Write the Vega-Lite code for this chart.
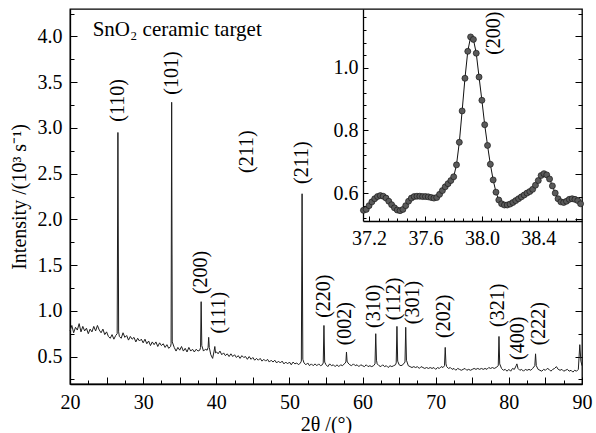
{
  "$schema": "https://vega.github.io/schema/vega-lite/v6.json",
  "width": 512,
  "height": 375,
  "autosize": {"type": "none"},
  "padding": {"left": 70, "top": 9, "right": 14, "bottom": 49},
  "background": "white",
  "config": {
    "font": "Liberation Serif",
    "view": {"stroke": "black", "strokeWidth": 1.3},
    "axis": {
      "grid": false,
      "domainColor": "black",
      "domainWidth": 1.3,
      "tickColor": "black",
      "tickWidth": 1,
      "labelFont": "Liberation Serif",
      "labelFontSize": 20,
      "labelColor": "black",
      "labelFlush": false,
      "labelOverlap": false,
      "titleFont": "Liberation Serif",
      "titleFontSize": 20,
      "titleFontWeight": "normal",
      "titleColor": "black"
    },
    "text": {"font": "Liberation Serif", "color": "black"}
  },
  "datasets": {
    "main": [
      {"t":20.00,"v":0.78},{"t":20.25,"v":0.84},{"t":20.50,"v":0.76},{"t":20.75,"v":0.82},{"t":21.00,"v":0.79},{"t":21.25,"v":0.86},{"t":21.50,"v":0.77},{"t":21.75,"v":0.83},{"t":22.00,"v":0.78},{"t":22.25,"v":0.81},{"t":22.50,"v":0.75},{"t":22.75,"v":0.80},{"t":23.00,"v":0.77},{"t":23.25,"v":0.83},{"t":23.50,"v":0.78},{"t":23.75,"v":0.84},{"t":24.00,"v":0.79},{"t":24.25,"v":0.76},{"t":24.50,"v":0.80},{"t":24.75,"v":0.74},
      {"t":25.00,"v":0.77},{"t":25.25,"v":0.72},{"t":25.50,"v":0.70},{"t":25.75,"v":0.74},{"t":26.00,"v":0.69},{"t":26.25,"v":0.73},{"t":26.45,"v":0.75},{"t":26.55,"v":2.95},{"t":26.65,"v":0.77},{"t":26.75,"v":0.72},{"t":27.00,"v":0.70},{"t":27.25,"v":0.76},{"t":27.50,"v":0.71},{"t":27.75,"v":0.73},{"t":28.00,"v":0.68},{"t":28.25,"v":0.72},{"t":28.50,"v":0.69},{"t":28.75,"v":0.71},{"t":29.00,"v":0.66},{"t":29.25,"v":0.70},{"t":29.50,"v":0.67},{"t":29.75,"v":0.69},
      {"t":30.00,"v":0.65},{"t":30.25,"v":0.69},{"t":30.50,"v":0.64},{"t":30.75,"v":0.67},{"t":31.00,"v":0.62},{"t":31.25,"v":0.66},{"t":31.50,"v":0.63},{"t":31.75,"v":0.66},{"t":32.00,"v":0.61},{"t":32.25,"v":0.65},{"t":32.50,"v":0.62},{"t":32.75,"v":0.64},{"t":33.00,"v":0.60},{"t":33.25,"v":0.63},{"t":33.50,"v":0.59},{"t":33.75,"v":0.61},{"t":33.82,"v":0.64},{"t":33.90,"v":3.28},{"t":33.98,"v":0.66},
      {"t":34.25,"v":0.60},{"t":34.50,"v":0.56},{"t":34.75,"v":0.60},{"t":35.00,"v":0.57},{"t":35.25,"v":0.61},{"t":35.50,"v":0.56},{"t":35.75,"v":0.59},{"t":36.00,"v":0.55},{"t":36.25,"v":0.60},{"t":36.50,"v":0.56},{"t":36.75,"v":0.58},{"t":37.00,"v":0.55},{"t":37.25,"v":0.58},{"t":37.50,"v":0.56},{"t":37.75,"v":0.57},{"t":37.85,"v":0.60},{"t":37.93,"v":1.10},{"t":38.02,"v":0.62},{"t":38.25,"v":0.56},{"t":38.50,"v":0.58},{"t":38.75,"v":0.57},{"t":38.88,"v":0.60},{"t":38.96,"v":0.71},{"t":39.04,"v":0.60},{"t":39.25,"v":0.52},{"t":39.50,"v":0.48},{"t":39.70,"v":0.56},{"t":39.80,"v":0.61},{"t":39.90,"v":0.54},
      {"t":40.05,"v":0.55},{"t":40.25,"v":0.53},{"t":40.50,"v":0.56},{"t":40.75,"v":0.52},{"t":41.00,"v":0.54},{"t":41.25,"v":0.51},{"t":41.50,"v":0.53},{"t":41.75,"v":0.50},{"t":42.00,"v":0.53},{"t":42.25,"v":0.50},{"t":42.50,"v":0.52},{"t":42.75,"v":0.49},{"t":43.00,"v":0.51},{"t":43.25,"v":0.48},{"t":43.50,"v":0.51},{"t":43.75,"v":0.49},{"t":44.00,"v":0.50},{"t":44.25,"v":0.47},{"t":44.50,"v":0.50},{"t":44.75,"v":0.47},
      {"t":45.00,"v":0.49},{"t":45.25,"v":0.46},{"t":45.50,"v":0.48},{"t":45.75,"v":0.46},{"t":46.00,"v":0.48},{"t":46.25,"v":0.45},{"t":46.50,"v":0.47},{"t":46.75,"v":0.45},{"t":47.00,"v":0.47},{"t":47.25,"v":0.44},{"t":47.50,"v":0.46},{"t":47.75,"v":0.44},{"t":48.00,"v":0.46},{"t":48.25,"v":0.43},{"t":48.50,"v":0.45},{"t":48.75,"v":0.43},{"t":49.00,"v":0.45},{"t":49.25,"v":0.42},{"t":49.50,"v":0.44},{"t":49.75,"v":0.42},
      {"t":50.00,"v":0.44},{"t":50.25,"v":0.41},{"t":50.50,"v":0.44},{"t":50.75,"v":0.42},{"t":51.00,"v":0.43},{"t":51.25,"v":0.41},{"t":51.50,"v":0.43},{"t":51.63,"v":0.45},{"t":51.73,"v":2.28},{"t":51.83,"v":0.47},{"t":52.00,"v":0.43},{"t":52.25,"v":0.41},{"t":52.50,"v":0.43},{"t":52.75,"v":0.40},{"t":53.00,"v":0.42},{"t":53.25,"v":0.40},{"t":53.50,"v":0.42},{"t":53.75,"v":0.40},{"t":54.00,"v":0.42},{"t":54.25,"v":0.40},{"t":54.50,"v":0.41},{"t":54.62,"v":0.43},{"t":54.72,"v":0.84},{"t":54.82,"v":0.44},
      {"t":55.00,"v":0.41},{"t":55.25,"v":0.39},{"t":55.50,"v":0.42},{"t":55.75,"v":0.40},{"t":56.00,"v":0.41},{"t":56.25,"v":0.39},{"t":56.50,"v":0.41},{"t":56.75,"v":0.39},{"t":57.00,"v":0.41},{"t":57.25,"v":0.40},{"t":57.50,"v":0.42},{"t":57.72,"v":0.44},{"t":57.80,"v":0.55},{"t":57.88,"v":0.45},{"t":58.00,"v":0.43},{"t":58.25,"v":0.41},{"t":58.50,"v":0.40},{"t":58.75,"v":0.42},{"t":59.00,"v":0.40},{"t":59.25,"v":0.41},{"t":59.50,"v":0.39},{"t":59.75,"v":0.41},
      {"t":60.00,"v":0.40},{"t":60.25,"v":0.39},{"t":60.50,"v":0.41},{"t":60.75,"v":0.39},{"t":61.00,"v":0.40},{"t":61.25,"v":0.39},{"t":61.50,"v":0.40},{"t":61.70,"v":0.42},{"t":61.80,"v":0.75},{"t":61.90,"v":0.46},{"t":62.00,"v":0.42},{"t":62.25,"v":0.40},{"t":62.50,"v":0.39},{"t":62.75,"v":0.41},{"t":63.00,"v":0.39},{"t":63.25,"v":0.40},{"t":63.50,"v":0.38},{"t":63.75,"v":0.40},{"t":64.00,"v":0.39},{"t":64.25,"v":0.40},{"t":64.50,"v":0.41},{"t":64.60,"v":0.43},{"t":64.70,"v":0.83},{"t":64.80,"v":0.45},
      {"t":65.00,"v":0.41},{"t":65.25,"v":0.40},{"t":65.50,"v":0.41},{"t":65.80,"v":0.44},{"t":65.90,"v":0.82},{"t":66.00,"v":0.46},{"t":66.25,"v":0.40},{"t":66.50,"v":0.39},{"t":66.75,"v":0.38},{"t":67.00,"v":0.39},{"t":67.25,"v":0.38},{"t":67.50,"v":0.39},{"t":67.75,"v":0.37},{"t":68.00,"v":0.39},{"t":68.25,"v":0.38},{"t":68.50,"v":0.37},{"t":68.75,"v":0.38},{"t":69.00,"v":0.37},{"t":69.25,"v":0.38},{"t":69.50,"v":0.37},{"t":69.75,"v":0.38},
      {"t":70.00,"v":0.36},{"t":70.25,"v":0.38},{"t":70.50,"v":0.37},{"t":70.75,"v":0.39},{"t":71.00,"v":0.38},{"t":71.20,"v":0.40},{"t":71.30,"v":0.60},{"t":71.40,"v":0.42},{"t":71.50,"v":0.39},{"t":71.75,"v":0.37},{"t":72.00,"v":0.38},{"t":72.25,"v":0.36},{"t":72.50,"v":0.37},{"t":72.75,"v":0.35},{"t":73.00,"v":0.37},{"t":73.25,"v":0.36},{"t":73.50,"v":0.35},{"t":73.75,"v":0.36},{"t":74.00,"v":0.37},{"t":74.25,"v":0.35},{"t":74.50,"v":0.36},{"t":74.75,"v":0.35},
      {"t":75.00,"v":0.36},{"t":75.25,"v":0.37},{"t":75.50,"v":0.36},{"t":75.75,"v":0.37},{"t":76.00,"v":0.36},{"t":76.25,"v":0.37},{"t":76.50,"v":0.36},{"t":76.75,"v":0.37},{"t":77.00,"v":0.36},{"t":77.25,"v":0.38},{"t":77.50,"v":0.37},{"t":77.75,"v":0.38},{"t":78.00,"v":0.37},{"t":78.25,"v":0.38},{"t":78.55,"v":0.40},{"t":78.65,"v":0.72},{"t":78.75,"v":0.42},{"t":79.00,"v":0.37},{"t":79.25,"v":0.35},{"t":79.50,"v":0.36},{"t":79.75,"v":0.34},
      {"t":80.00,"v":0.36},{"t":80.25,"v":0.34},{"t":80.50,"v":0.37},{"t":80.75,"v":0.36},{"t":81.00,"v":0.40},{"t":81.10,"v":0.42},{"t":81.25,"v":0.37},{"t":81.50,"v":0.35},{"t":81.75,"v":0.36},{"t":82.00,"v":0.34},{"t":82.25,"v":0.36},{"t":82.50,"v":0.35},{"t":82.75,"v":0.36},{"t":83.00,"v":0.35},{"t":83.25,"v":0.37},{"t":83.55,"v":0.40},{"t":83.65,"v":0.53},{"t":83.75,"v":0.40},{"t":84.00,"v":0.36},{"t":84.25,"v":0.35},{"t":84.50,"v":0.34},{"t":84.75,"v":0.36},
      {"t":85.00,"v":0.35},{"t":85.25,"v":0.37},{"t":85.50,"v":0.36},{"t":85.75,"v":0.34},{"t":86.00,"v":0.36},{"t":86.25,"v":0.37},{"t":86.50,"v":0.39},{"t":86.75,"v":0.36},{"t":87.00,"v":0.35},{"t":87.25,"v":0.36},{"t":87.50,"v":0.34},{"t":87.75,"v":0.35},{"t":88.00,"v":0.36},{"t":88.25,"v":0.34},{"t":88.50,"v":0.35},{"t":88.75,"v":0.33},{"t":89.00,"v":0.35},{"t":89.25,"v":0.34},{"t":89.50,"v":0.36},{"t":89.70,"v":0.63},{"t":89.85,"v":0.45},{"t":90.00,"v":0.40}
    ],
    "labels": [
      {"t":26.56,"v":3.30,"txt":"(110)"},
      {"t":34.0,"v":3.60,"txt":"(101)"},
      {"t":37.9,"v":1.42,"txt":"(200)"},
      {"t":40.4,"v":0.98,"txt":"(111)"},
      {"t":44.2,"v":2.74,"txt":"(211)"},
      {"t":51.7,"v":2.62,"txt":"(211)"},
      {"t":54.7,"v":1.16,"txt":"(220)"},
      {"t":57.6,"v":0.86,"txt":"(002)"},
      {"t":61.5,"v":1.05,"txt":"(310)"},
      {"t":64.3,"v":1.13,"txt":"(112)"},
      {"t":66.9,"v":1.09,"txt":"(301)"},
      {"t":71.2,"v":0.94,"txt":"(202)"},
      {"t":78.5,"v":1.06,"txt":"(321)"},
      {"t":81.2,"v":0.70,"txt":"(400)"},
      {"t":84.1,"v":0.86,"txt":"(222)"}
    ],
    "title": [{"t":23.1,"v":4.0,"txt":"SnO₂ ceramic target"}],
    "inset": [
      {"a":37.16,"b":0.545},{"a":37.18,"b":0.548},{"a":37.20,"b":0.560},{"a":37.22,"b":0.572},{"a":37.24,"b":0.582},{"a":37.26,"b":0.589},{"a":37.28,"b":0.592},{"a":37.30,"b":0.590},{"a":37.32,"b":0.584},{"a":37.34,"b":0.574},{"a":37.36,"b":0.563},{"a":37.38,"b":0.553},{"a":37.40,"b":0.546},{"a":37.42,"b":0.544},{"a":37.44,"b":0.548},{"a":37.46,"b":0.560},{"a":37.48,"b":0.574},{"a":37.50,"b":0.584},{"a":37.52,"b":0.589},{"a":37.54,"b":0.590},
      {"a":37.56,"b":0.590},{"a":37.58,"b":0.589},{"a":37.60,"b":0.589},{"a":37.62,"b":0.588},{"a":37.64,"b":0.586},{"a":37.66,"b":0.584},{"a":37.68,"b":0.586},{"a":37.70,"b":0.596},{"a":37.72,"b":0.608},{"a":37.74,"b":0.620},{"a":37.76,"b":0.630},{"a":37.78,"b":0.640},{"a":37.80,"b":0.652},{"a":37.82,"b":0.690},{"a":37.84,"b":0.762},{"a":37.86,"b":0.862},{"a":37.88,"b":0.966},{"a":37.90,"b":1.052},{"a":37.92,"b":1.098},{"a":37.94,"b":1.090},
      {"a":37.96,"b":1.046},{"a":37.98,"b":0.970},{"a":38.00,"b":0.896},{"a":38.02,"b":0.818},{"a":38.04,"b":0.752},{"a":38.06,"b":0.692},{"a":38.08,"b":0.642},{"a":38.10,"b":0.603},{"a":38.12,"b":0.578},{"a":38.14,"b":0.566},{"a":38.16,"b":0.562},{"a":38.18,"b":0.562},{"a":38.20,"b":0.565},{"a":38.22,"b":0.570},{"a":38.24,"b":0.576},{"a":38.26,"b":0.582},{"a":38.28,"b":0.588},{"a":38.30,"b":0.594},{"a":38.32,"b":0.600},{"a":38.34,"b":0.605},
      {"a":38.36,"b":0.612},{"a":38.38,"b":0.625},{"a":38.40,"b":0.640},{"a":38.42,"b":0.656},{"a":38.44,"b":0.662},{"a":38.46,"b":0.658},{"a":38.48,"b":0.645},{"a":38.50,"b":0.623},{"a":38.52,"b":0.600},{"a":38.54,"b":0.582},{"a":38.56,"b":0.572},{"a":38.58,"b":0.570},{"a":38.60,"b":0.574},{"a":38.62,"b":0.580},{"a":38.64,"b":0.582},{"a":38.66,"b":0.580},{"a":38.68,"b":0.576},{"a":38.70,"b":0.566}
    ],
    "insetLabel": [{"a":38.085,"b":1.11,"txt":"(200)"}]
  },
  "layer": [
    {
      "data": {"name": "main"},
      "mark": {"type": "line", "color": "#1e1e1e", "strokeWidth": 1},
      "encoding": {
        "x": {"field": "t", "type": "quantitative",
          "scale": {"domain": [20, 90], "nice": false, "zero": false},
          "axis": {"orient": "bottom", "values": [20,25,30,35,40,45,50,55,60,65,70,75,80,85,90],
            "labelExpr": "datum.value % 10 === 0 ? datum.label : ''",
            "labelFont": "Liberation Serif", "titleFont": "Liberation Serif",
            "tickSize": -7, "labelPadding": 15, "title": "2θ /(°)", "titlePadding": 2}},
        "y": {"field": "v", "type": "quantitative",
          "scale": {"domain": [0.2, 4.3], "nice": false, "zero": false},
          "axis": {"orient": "left", "values": [0.5,1,1.5,2,2.5,3,3.5,4], "format": ".1f",
            "labelFont": "Liberation Serif", "titleFont": "Liberation Serif",
            "tickSize": -7, "labelPadding": 15, "title": "Intensity /(10³ s⁻¹)", "titlePadding": 8}}
      }
    },
    {
      "data": {"name": "labels"},
      "mark": {"type": "text", "angle": 270, "align": "center", "baseline": "middle", "fontSize": 20, "font": "Liberation Serif"},
      "encoding": {
        "x": {"field": "t", "type": "quantitative",
          "scale": {"domain": [20, 90], "nice": false, "zero": false},
          "axis": {"orient": "bottom", "values": [22.5,27.5,32.5,37.5,42.5,47.5,52.5,57.5,62.5,67.5,72.5,77.5,82.5,87.5],
            "tickSize": -4, "labels": false, "domain": false, "title": null}},
        "y": {"field": "v", "type": "quantitative",
          "scale": {"domain": [0.2, 4.3], "nice": false, "zero": false},
          "axis": {"orient": "left", "values": [0.25,0.75,1.25,1.75,2.25,2.75,3.25,3.75,4.25],
            "tickSize": -4, "labels": false, "domain": false, "title": null}},
        "text": {"field": "txt"}
      }
    },
    {
      "data": {"name": "title"},
      "mark": {"type": "text", "align": "left", "baseline": "alphabetic", "fontSize": 21, "font": "Liberation Serif"},
      "encoding": {
        "x": {"field": "t", "type": "quantitative",
          "scale": {"domain": [20, 90], "nice": false, "zero": false}, "axis": null},
        "y": {"field": "v", "type": "quantitative",
          "scale": {"domain": [0.2, 4.3], "nice": false, "zero": false},
          "axis": {"orient": "right", "values": [0.5,1,1.5,2,2.5,3,3.5,4],
            "tickSize": -7, "labels": false, "domain": false, "title": null}},
        "text": {"field": "txt"}
      }
    },
    {
      "data": {"name": "title"},
      "mark": {"type": "point", "opacity": 0},
      "encoding": {
        "x": {"field": "t", "type": "quantitative",
          "scale": {"domain": [20, 90], "nice": false, "zero": false}, "axis": null},
        "y": {"field": "v", "type": "quantitative",
          "scale": {"domain": [0.2, 4.3], "nice": false, "zero": false},
          "axis": {"orient": "right", "values": [0.25,0.75,1.25,1.75,2.25,2.75,3.25,3.75,4.25],
            "tickSize": -4, "labels": false, "domain": false, "title": null}}
      }
    },
    {
      "data": {"name": "inset"},
      "mark": {"type": "line", "color": "#111", "strokeWidth": 1},
      "encoding": {
        "x": {"field": "a", "type": "quantitative",
          "scale": {"domain": [37.157, 38.71], "range": [293, 512], "nice": false, "zero": false},
          "axis": {"orient": "bottom", "offset": -163, "values": [37.2, 37.6, 38.0, 38.4], "format": ".1f",
            "labelFont": "Liberation Serif",
            "tickSize": -5, "labelPadding": 12, "title": null}},
        "y": {"field": "b", "type": "quantitative",
          "scale": {"domain": [0.511, 1.187], "range": [212, 0], "nice": false, "zero": false},
          "axis": {"orient": "left", "offset": -293, "values": [0.6, 0.8, 1.0], "format": ".1f",
            "labelFont": "Liberation Serif",
            "tickSize": -5, "labelPadding": 10, "title": null}}
      }
    },
    {
      "data": {"name": "inset"},
      "mark": {"type": "point", "filled": true, "size": 36, "fill": "#5a5a5a", "stroke": "#1a1a1a", "strokeWidth": 0.7, "opacity": 1},
      "encoding": {
        "x": {"field": "a", "type": "quantitative",
          "scale": {"domain": [37.157, 38.71], "range": [293, 512], "nice": false, "zero": false},
          "axis": {"orient": "bottom", "offset": -163,
            "values": [37.267,37.333,37.4,37.467,37.533,37.667,37.733,37.8,37.867,37.933,38.067,38.133,38.2,38.267,38.333,38.467,38.533,38.6,38.667],
            "tickSize": -3, "labels": false, "domain": false, "title": null}},
        "y": {"field": "b", "type": "quantitative",
          "scale": {"domain": [0.511, 1.187], "range": [212, 0], "nice": false, "zero": false},
          "axis": {"orient": "left", "offset": -293,
            "values": [0.52,0.56,0.64,0.68,0.72,0.76,0.84,0.88,0.92,0.96,1.04,1.08,1.12,1.16],
            "tickSize": -3, "labels": false, "domain": false, "title": null}}
      }
    },
    {
      "data": {"name": "insetLabel"},
      "mark": {"type": "text", "angle": 270, "align": "center", "baseline": "middle", "fontSize": 20, "font": "Liberation Serif"},
      "encoding": {
        "x": {"field": "a", "type": "quantitative",
          "scale": {"domain": [37.157, 38.71], "range": [293, 512], "nice": false, "zero": false}, "axis": null},
        "y": {"field": "b", "type": "quantitative",
          "scale": {"domain": [0.511, 1.187], "range": [212, 0], "nice": false, "zero": false}, "axis": null},
        "text": {"field": "txt"}
      }
    }
  ],
  "resolve": {
    "scale": {"x": "independent", "y": "independent"},
    "axis": {"x": "independent", "y": "independent"}
  }
}
